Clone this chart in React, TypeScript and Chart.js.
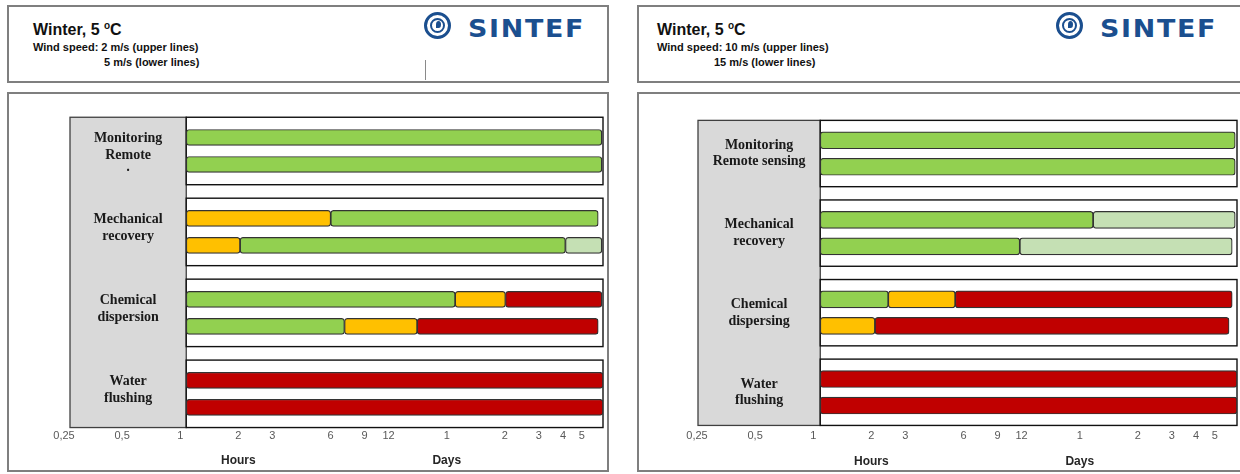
import React, { useEffect, useRef } from "react";
import { Chart, registerables } from "chart.js";

Chart.register(...registerables);

// ---------- data ----------
const hourTicks = [0.25, 0.5, 1, 2, 3, 6, 9, 12, 24, 48, 72, 96, 120];
const tickLabels = ["0,25", "0,5", "1", "2", "3", "6", "9", "12", "1", "2", "3", "4", "5"];
const axisMinHours = 0.25;
const axisMaxHours = 144;
const unitLabels = ["Hours", "Days"];
const unitAnchorHours = [2, 24];

const methodsLeft = [
  ["Monitoring", "Remote", "·"],
  ["Mechanical", "recovery"],
  ["Chemical", "dispersion"],
  ["Water", "flushing"],
];
const methodsRight = [
  ["Monitoring", "Remote sensing"],
  ["Mechanical", "recovery"],
  ["Chemical", "dispersing"],
  ["Water", "flushing"],
];

// status: G = green, Y = yellow/orange, R = red, L = light green
const statusColors: Record<string, string> = {
  G: "#92D050",
  Y: "#FFC000",
  R: "#C00000",
  L: "#C5E0B4",
};

type Seg = [number, number, string];

// segments [from hours, to hours, status] per method
const wind2ms: Seg[][] = [
  [[1, 142, "G"]],
  [[1, 5.6, "Y"], [5.6, 136, "G"]],
  [[1, 24.7, "G"], [24.7, 45, "Y"], [45, 142, "R"]],
  [[1, 144, "R"]],
];
const wind5ms: Seg[][] = [
  [[1, 142, "G"]],
  [[1, 1.9, "Y"], [1.9, 92, "G"], [92, 142, "L"]],
  [[1, 6.6, "G"], [6.6, 15.7, "Y"], [15.7, 136, "R"]],
  [[1, 144, "R"]],
];
const wind10ms: Seg[][] = [
  [[1, 141, "G"]],
  [[1, 25.9, "G"], [25.9, 141, "L"]],
  [[1, 2.25, "G"], [2.25, 5, "Y"], [5, 136, "R"]],
  [[1, 144, "R"]],
];
const wind15ms: Seg[][] = [
  [[1, 141, "G"]],
  [[1, 10.8, "G"], [10.8, 136, "L"]],
  [[1, 1.92, "Y"], [1.92, 131, "R"]],
  [[1, 144, "R"]],
];

const windTextLeft = ["Wind speed: 2 m/s (upper lines)", "5 m/s (lower lines)"];
const windTextRight = ["Wind speed: 10 m/s (upper lines)", "15 m/s (lower lines)"];

// ---------- layout ----------
type Panel = {
  key: string;
  boxLeft: number;
  boxWidth: number;
  titleX: number;
  wind: string[];
  wind2X: number;
  logoX: number;
  iconCX: number;
  methods: string[][];
  upper: Seg[][];
  lower: Seg[][];
  canvasLeft: number;
  canvasWidth: number;
  pad: { left: number; right: number; top: number; bottom: number };
  tickPad: number;
  labelOffset: number;
  barThickness: number;
  labelShift: number;
  grayExtra: number;
  unitGap: number;
};

const panels: Panel[] = [
  {
    key: "left",
    boxLeft: 7,
    boxWidth: 602,
    titleX: 33,
    wind: windTextLeft,
    wind2X: 104,
    logoX: 468,
    iconCX: 437,
    methods: methodsLeft,
    upper: wind2ms,
    lower: wind5ms,
    canvasLeft: 9,
    canvasWidth: 598,
    pad: { left: 61, right: 4, top: 30, bottom: 18 },
    tickPad: 9,
    labelOffset: -6,
    barThickness: 16,
    labelShift: -4,
    grayExtra: 0,
    unitGap: 24,
  },
  {
    key: "right",
    boxLeft: 637,
    boxWidth: 620,
    titleX: 657,
    wind: windTextRight,
    wind2X: 714,
    logoX: 1100,
    iconCX: 1069,
    methods: methodsRight,
    upper: wind10ms,
    lower: wind15ms,
    canvasLeft: 639,
    canvasWidth: 601,
    pad: { left: 65, right: 3, top: 33, bottom: 16 },
    tickPad: 11,
    labelOffset: -7,
    barThickness: 17,
    labelShift: 0,
    grayExtra: 6,
    unitGap: 25,
  },
];

const CANVAS_TOP = 94;
const CANVAS_H = 376;
const SANS = '"Liberation Sans", Arial, sans-serif';
const SERIF = '"Liberation Serif", "Times New Roman", serif';
const BLUE = "#1b4f8f";

function PanelChart({ p }: { p: Panel }) {
  const ref = useRef<HTMLCanvasElement | null>(null);

  useEffect(() => {
    if (!ref.current) return;
    // 11 slots: upper, lower, gap, ...
    const rows: (Seg[] | null)[] = [];
    const rowLabels: string[] = [];
    p.methods.forEach((m, g) => {
      rows.push(p.upper[g]);
      rowLabels.push(m.join(" ") + " (upper)");
      rows.push(p.lower[g]);
      rowLabels.push(m.join(" ") + " (lower)");
      if (g < p.methods.length - 1) {
        rows.push(null);
        rowLabels.push("gap " + g);
      }
    });
    const maxSegs = Math.max(...rows.map((r) => (r ? r.length : 0)));
    const datasets = [];
    for (let k = 0; k < maxSegs; k++) {
      datasets.push({
        label: "segment " + (k + 1),
        data: rows.map((r) => (r && r[k] ? [r[k][0], r[k][1]] : null)),
        backgroundColor: rows.map((r) => (r && r[k] ? statusColors[r[k][2]] : "rgba(0,0,0,0)")),
        borderColor: "#333333",
        borderWidth: 1.2,
        borderRadius: 3,
        borderSkipped: false,
        barThickness: p.barThickness,
        grouped: false,
      });
    }

    const decor = {
      id: "decor",
      beforeDatasetsDraw(chart: any) {
        const { ctx, chartArea } = chart;
        const x = chart.scales.x;
        const y = chart.scales.y;
        const slot = y.getPixelForValue(1) - y.getPixelForValue(0);
        const gx0 = chartArea.left - p.grayExtra;
        const gx1 = x.getPixelForValue(1);
        const groups = p.methods.map((_, g) => {
          const a = y.getPixelForValue(3 * g);
          const b = y.getPixelForValue(3 * g + 1);
          return { top: a - 0.75 * slot, bottom: b + 0.75 * slot, mid: (a + b) / 2 };
        });
        ctx.save();
        // gray label column
        const gy0 = groups[0].top;
        const gy1 = groups[groups.length - 1].bottom;
        ctx.fillStyle = "#D9D9D9";
        ctx.fillRect(gx0, gy0, gx1 - gx0, gy1 - gy0);
        ctx.strokeStyle = "#404040";
        ctx.lineWidth = 1.3;
        ctx.strokeRect(gx0, gy0, gx1 - gx0, gy1 - gy0);
        // group boxes
        groups.forEach((gr) => {
          ctx.fillStyle = "#ffffff";
          ctx.fillRect(gx1, gr.top, chartArea.right - gx1, gr.bottom - gr.top);
          ctx.strokeStyle = "#111111";
          ctx.lineWidth = 1.4;
          ctx.strokeRect(gx1, gr.top, chartArea.right - gx1, gr.bottom - gr.top);
        });
        // method labels
        ctx.fillStyle = "#1a1a1a";
        ctx.font = "bold 14px " + SERIF;
        ctx.textAlign = "center";
        ctx.textBaseline = "middle";
        const cx = (gx0 + gx1) / 2;
        p.methods.forEach((lines, g) => {
          const m = Math.min(lines.length, 2);
          const cy = groups[g].mid + p.labelShift;
          lines.forEach((t, i) => {
            ctx.fillText(t, cx, cy + (i - (m - 1) / 2) * 16.5);
          });
        });
        ctx.restore();
      },
      afterDraw(chart: any) {
        const { ctx, chartArea } = chart;
        const x = chart.scales.x;
        ctx.save();
        ctx.fillStyle = "#262626";
        ctx.font = "bold 12px " + SANS;
        ctx.textAlign = "center";
        ctx.textBaseline = "middle";
        const yy = chartArea.bottom + p.tickPad + 6.6 + p.unitGap;
        unitLabels.forEach((t, i) => {
          ctx.fillText(t, x.getPixelForValue(unitAnchorHours[i]) + p.labelOffset, yy);
        });
        ctx.restore();
      },
    };

    const chart = new Chart(ref.current, {
      type: "bar",
      data: { labels: rowLabels, datasets: datasets as any },
      options: {
        indexAxis: "y",
        animation: false,
        responsive: false,
        maintainAspectRatio: false,
        layout: { padding: p.pad },
        plugins: {
          legend: { display: false },
          tooltip: { enabled: false },
          title: { display: false },
        },
        scales: {
          x: {
            type: "logarithmic",
            min: axisMinHours,
            max: axisMaxHours,
            grid: { display: false, drawTicks: false },
            border: { display: false },
            afterBuildTicks: (s: any) => {
              s.ticks = hourTicks.map((v) => ({ value: v }));
            },
            ticks: {
              autoSkip: false,
              maxRotation: 0,
              minRotation: 0,
              padding: p.tickPad,
              labelOffset: p.labelOffset,
              color: "#595959",
              font: { family: SANS, size: 11 },
              callback: (_v: any, i: number) => tickLabels[i],
            },
          },
          y: { type: "category", display: false, offset: true },
        },
      } as any,
      plugins: [decor],
    });
    return () => chart.destroy();
  }, [p]);

  return (
    <canvas
      ref={ref}
      width={p.canvasWidth}
      height={CANVAS_H}
      style={{ position: "absolute", left: p.canvasLeft, top: CANVAS_TOP, width: p.canvasWidth, height: CANVAS_H }}
    />
  );
}

function Logo({ p }: { p: Panel }) {
  const r = 13.5;
  return (
    <>
      <div
        style={{
          position: "absolute",
          left: p.iconCX - r,
          top: 25 - r,
          width: 2 * r,
          height: 2 * r,
          boxSizing: "border-box",
          border: "3.5px solid " + BLUE,
          borderRadius: "50%",
        }}
      />
      <div
        style={{
          position: "absolute",
          left: p.iconCX - 7.5,
          top: 25 - 7.5,
          width: 15,
          height: 15,
          boxSizing: "border-box",
          border: "2px solid " + BLUE,
          borderRadius: "50%",
        }}
      />
      <div
        style={{
          position: "absolute",
          left: p.iconCX - 1,
          top: 25 - 4,
          width: 5,
          height: 7,
          background: BLUE,
          borderRadius: "50% 50% 50% 0",
        }}
      />
      <div
        style={{
          position: "absolute",
          left: p.logoX,
          top: 17,
          fontFamily: '"DejaVu Sans", sans-serif',
          fontWeight: "bold",
          fontSize: 24,
          lineHeight: "24px",
          letterSpacing: 1.5,
          color: BLUE,
          whiteSpace: "nowrap",
          transform: "scaleX(1.12)",
          transformOrigin: "left center",
        }}
      >
        SINTEF
      </div>
    </>
  );
}

function PanelView({ p }: { p: Panel }) {
  return (
    <>
      <div
        style={{
          position: "absolute",
          left: p.boxLeft,
          top: 5,
          width: p.boxWidth,
          height: 78,
          boxSizing: "border-box",
          border: "2px solid #7f7f7f",
          background: "#fff",
        }}
      />
      <div
        style={{
          position: "absolute",
          left: p.titleX,
          top: 22,
          fontFamily: SANS,
          fontWeight: "bold",
          fontSize: 16,
          lineHeight: "16px",
          color: "#111",
          whiteSpace: "nowrap",
        }}
      >
        Winter, 5 <span style={{ fontSize: 10, position: "relative", top: -6 }}>o</span>C
      </div>
      <div
        style={{
          position: "absolute",
          left: p.titleX,
          top: 42,
          fontFamily: SANS,
          fontWeight: "bold",
          fontSize: 11,
          lineHeight: "11px",
          color: "#111",
          whiteSpace: "nowrap",
        }}
      >
        {p.wind[0]}
      </div>
      <div
        style={{
          position: "absolute",
          left: p.wind2X,
          top: 57,
          fontFamily: SANS,
          fontWeight: "bold",
          fontSize: 11,
          lineHeight: "11px",
          color: "#111",
          whiteSpace: "nowrap",
        }}
      >
        {p.wind[1]}
      </div>
      <Logo p={p} />
      <div
        style={{
          position: "absolute",
          left: p.boxLeft,
          top: 92,
          width: p.boxWidth,
          height: 380,
          boxSizing: "border-box",
          border: "2px solid #7f7f7f",
          background: "#fff",
        }}
      />
      <PanelChart p={p} />
    </>
  );
}

export default function App() {
  return (
    <div
      style={{
        position: "absolute",
        left: 0,
        top: 0,
        width: 1240,
        height: 474,
        overflow: "hidden",
        background: "#fff",
      }}
    >
      {panels.map((p) => (
        <PanelView key={p.key} p={p} />
      ))}
      <div style={{ position: "absolute", left: 425, top: 60, width: 1, height: 20, background: "#8a8a8a" }} />
    </div>
  );
}
